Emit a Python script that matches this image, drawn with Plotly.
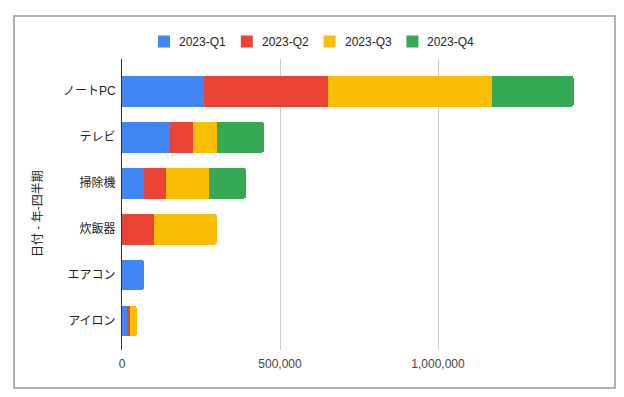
import plotly.graph_objects as go

categories = ["ノートPC", "テレビ", "掃除機", "炊飯器", "エアコン", "アイロン"]
series_names = ["2023-Q1", "2023-Q2", "2023-Q3", "2023-Q4"]
q1 = [260000, 151000, 69000, None, 69000, 16000]
q2 = [392000, 74000, 71000, 100000, None, 8000]
q3 = [519000, 76000, 136000, 200000, None, 22000]
q4 = [258000, 148000, 116000, None, None, None]
colors = ["#4285F4", "#EA4335", "#FBBC04", "#34A853"]
tick_vals = [0, 500000, 1000000, 1500000]
tick_text = ["0", "500,000", "1,000,000", ""]
axis_title = "日付 - 年-四半期"

FONT = "Liberation Sans, Arial, Noto Sans CJK JP, sans-serif"

fig = go.Figure()
for name, vals, col in zip(series_names, [q1, q2, q3, q4], colors):
    fig.add_trace(go.Bar(
        y=categories, x=vals, name=name, orientation="h",
        marker=dict(color=col, line=dict(width=0)),
        hoverinfo="x+name", showlegend=False,
    ))

W, H = 624, 397
L, R, T, B = 122, 28, 59, 47
pw, ph = W - L - R, H - T - B

def px_x(x):
    return (x - L) / pw

def px_y(y):
    return (H - B - y) / ph

# Legend (layout decoration) built from the series names/colours
legend_shapes, legend_ann = [], []
LEG_X0, LEG_STEP, LEG_Y, SQ = 158, 82.8, 41.5, 12
for i, (name, col) in enumerate(zip(series_names, colors)):
    sx = LEG_X0 + i * LEG_STEP
    legend_shapes.append(dict(
        type="rect", xref="paper", yref="paper",
        x0=px_x(sx), x1=px_x(sx + SQ), y0=px_y(LEG_Y + SQ / 2), y1=px_y(LEG_Y - SQ / 2),
        line=dict(width=0), fillcolor=col, layer="above"))
    legend_ann.append(dict(
        text=name, xref="paper", yref="paper",
        x=px_x(sx + 19), y=px_y(LEG_Y), xanchor="left", yanchor="middle",
        showarrow=False, font=dict(size=12, color="#222222")))

fig.update_layout(
    width=W, height=H,
    margin=dict(l=L, r=R, t=T, b=B, autoexpand=False),
    barmode="stack",
    bargap=0.33,
    barcornerradius=2,
    paper_bgcolor="white",
    plot_bgcolor="white",
    font=dict(family=FONT, size=12, color="#222222"),
    showlegend=False,
    xaxis=dict(
        range=[0, 1500000],
        tickvals=tick_vals, ticktext=tick_text,
        showgrid=True, gridcolor="#cccccc", gridwidth=1,
        zeroline=False, showline=False,
        tickfont=dict(size=12, color="#444444"),
        ticks="", automargin=False, ticklabelstandoff=5,
    ),
    yaxis=dict(
        categoryorder="array", categoryarray=categories,
        range=[5.63, -0.70],
        showgrid=False, zeroline=False,
        showline=True, linecolor="#333333", linewidth=1,
        ticks="", ticklabelstandoff=3, automargin=False,
        tickfont=dict(size=12, color="#222222"),
    ),
    shapes=[
        dict(type="rect", xref="paper", yref="paper",
             x0=px_x(14), x1=px_x(615), y0=px_y(388), y1=px_y(16),
             line=dict(color="#999999", width=1.5), fillcolor="rgba(0,0,0,0)",
             layer="below"),
    ] + legend_shapes,
    annotations=[
        dict(text=axis_title, xref="paper", yref="paper",
             x=px_x(38), y=px_y(214), showarrow=False, textangle=-90,
             font=dict(size=12, color="#222222"), xanchor="center", yanchor="middle"),
    ] + legend_ann,
)

fig.write_html("out.html", config={"displayModeBar": False})
with open("out.html", "r", encoding="utf-8") as f:
    html = f.read()
html = html.replace("<head>", "<head><style>html,body{margin:0;padding:0;}</style>", 1)
with open("out.html", "w", encoding="utf-8") as f:
    f.write(html)
